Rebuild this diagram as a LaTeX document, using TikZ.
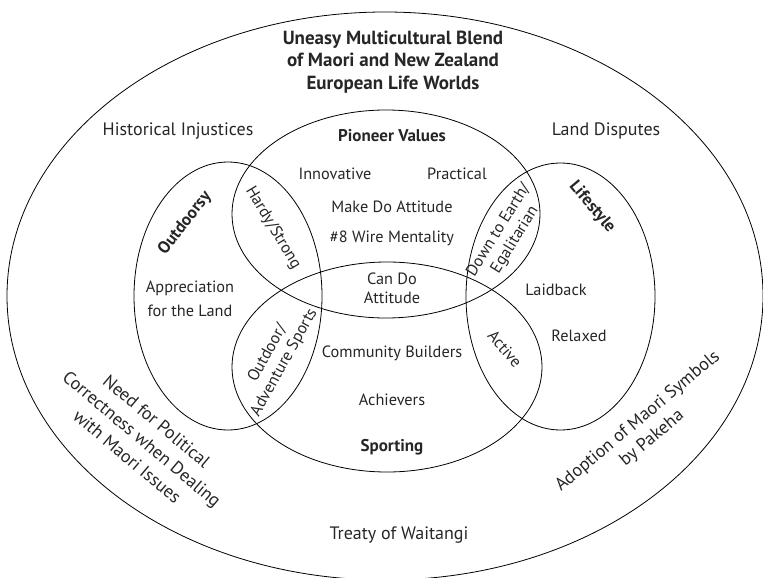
\documentclass[tikz,border=0pt]{standalone}
\usepackage{fontspec}
\setmainfont{PT Sans}
\begin{document}
\begin{tikzpicture}[x=1pt,y=-1pt,
  ring/.style={draw=black,line width=0.8pt},
  lbl/.style={text=black!85,font=\fontsize{16.3}{22}\selectfont,inner sep=0pt,align=center},
  outer/.style={lbl,font=\fontsize{18}{23}\selectfont},
  head/.style={lbl,font=\fontsize{17}{22}\selectfont\bfseries}]
\useasboundingbox (0,0) rectangle (763,578);
\clip (0,0) rectangle (763,578);

% frames
\draw[ring] (385,296) ellipse [x radius=378, y radius=284];
\draw[ring] (386,214) ellipse [x radius=154, y radius=104];
\draw[ring] (387,367) ellipse [x radius=155, y radius=105];
\draw[ring] (228,296) ellipse [x radius=94, y radius=134];
\draw[ring] (560.5,296.5) ellipse [x radius=94.5, y radius=133.5];

% outer band
\node[head,font=\fontsize{19}{22.5}\selectfont\bfseries] (title) at (393,62)
  {Uneasy Multicultural Blend\\of Maori and New Zealand\\European Life Worlds};
\node[outer] (hist) at (178,131) {Historical Injustices};
\node[outer] (land) at (606,131) {Land Disputes};
\node[outer,rotate=-40] (pc) at (142,439)
  {Need for Political\\Correctness when Dealing\\with Maori Issues};
\node[outer,rotate=40,font=\fontsize{18}{22}\selectfont] (adopt) at (645,430)
  {Adoption of Maori Symbols\\by Pakeha};
\node[outer] (treaty) at (399,535) {Treaty of Waitangi};

% pioneer values
\node[head] (pioneer) at (392,136) {Pioneer Values};
\node[lbl] (innov) at (335,174) {Innovative};
\node[lbl] (pract) at (457,174) {Practical};
\node[lbl] (make) at (392,207) {Make Do Attitude};
\node[lbl] (wire) at (392,238) {\#8 Wire Mentality};
\node[lbl,font=\fontsize{16.3}{19}\selectfont] (cando) at (392,288) {Can Do\\Attitude};

% outdoorsy
\node[head,rotate=52] (outd) at (185,223) {Outdoorsy};
\node[lbl,font=\fontsize{16.3}{24}\selectfont] (apprec) at (190,299) {Appreciation\\for the Land};
\node[lbl,rotate=-59] (hardy) at (273,228) {Hardy/Strong};
\node[lbl,rotate=61,font=\fontsize{16.3}{19}\selectfont] (adv) at (276,358) {Outdoor/\\Adventure Sports};

% lifestyle
\node[head,rotate=-50] (life) at (592,207) {Lifestyle};
\node[lbl,rotate=58,font=\fontsize{16.3}{19}\selectfont] (earth) at (507,235) {Down to Earth/\\Egalitarian};
\node[lbl] (laid) at (556,290) {Laidback};
\node[lbl] (relax) at (579,336) {Relaxed};
\node[lbl,rotate=-49] (active) at (505,349) {Active};

% sporting
\node[lbl] (comm) at (392,353) {Community Builders};
\node[lbl] (achv) at (392,400) {Achievers};
\node[head] (sport) at (392,447) {Sporting};
\end{tikzpicture}
\end{document}
